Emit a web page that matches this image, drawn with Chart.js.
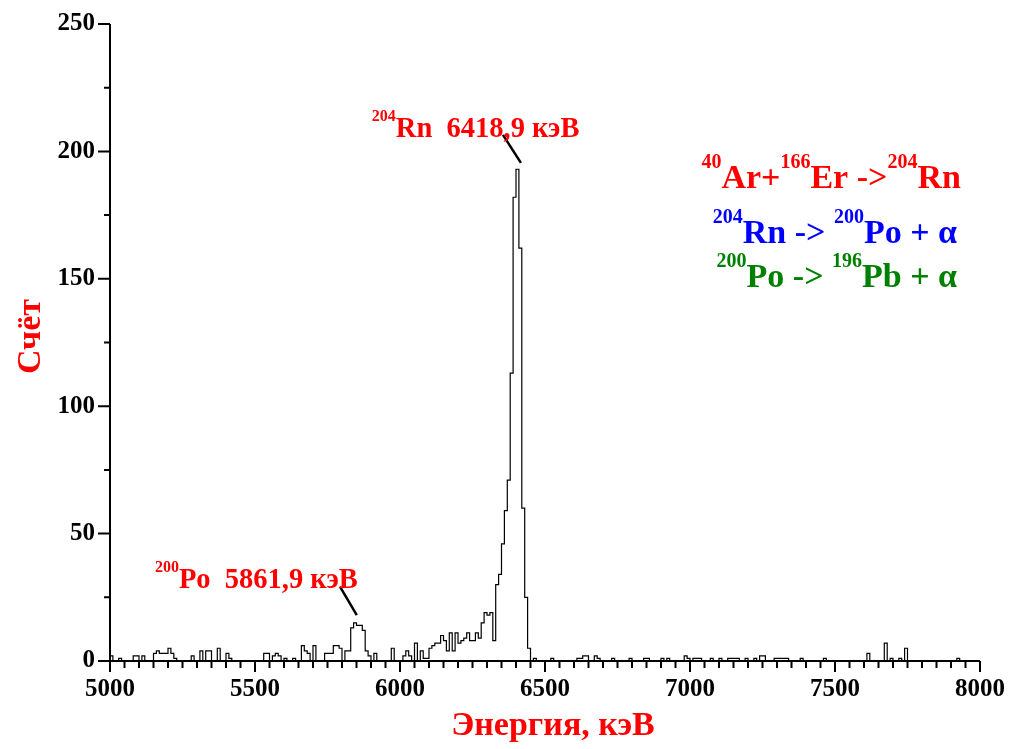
<!DOCTYPE html>
<html>
<head>
<meta charset="utf-8">
<script src="https://cdn.jsdelivr.net/npm/chart.js@4.4.1/dist/chart.umd.min.js"></script>
<style>
  html, body { margin: 0; padding: 0; background: #fff; }
  #wrap { width: 1011px; height: 749px; }
</style>
</head>
<body>
<div id="wrap"><canvas id="spectrum"></canvas></div>
<script>
// spectrum: 10 keV bins from 5000 to 8000 keV, one row = 100 keV
const binStart = 5000;
const binWidth = 10;
const counts = [
  2, 0, 0, 1, 0, 0, 0, 0, 2, 2,        // 5000
  0, 2, 0, 0, 0, 3, 4, 3, 3, 3,        // 5100
  5, 3, 1, 0, 0, 0, 0, 0, 2, 0,        // 5200
  0, 4, 0, 4, 4, 0, 0, 5, 0, 0,        // 5300
  3, 1, 0, 0, 0, 0, 0, 0, 0, 0,        // 5400
  0, 0, 0, 3, 3, 0, 2, 3, 2, 0,        // 5500
  1, 0, 0, 1, 0, 0, 6, 4, 3, 0,        // 5600
  6, 0, 0, 0, 3, 3, 3, 6, 6, 5,        // 5700
  0, 4, 4, 13, 15, 14, 14, 12, 4, 2,   // 5800
  0, 3, 0, 0, 0, 0, 0, 5, 0, 0,        // 5900
  0, 2, 4, 2, 0, 7, 0, 4, 1, 1,        // 6000
  5, 6, 7, 7, 10, 8, 4, 11, 4, 11,     // 6100
  7, 8, 9, 11, 8, 8, 11, 9, 15, 19,    // 6200
  18, 19, 8, 30, 34, 46, 59, 71, 113, 182, // 6300
  193, 162, 60, 25, 5, 0, 1, 0, 0, 0,  // 6400
  0, 0, 1, 0, 0, 0, 0, 0, 0, 0,        // 6500
  0, 1, 1, 2, 2, 0, 0, 2, 1, 0,        // 6600
  0, 0, 0, 1, 0, 0, 0, 0, 0, 1,        // 6700
  0, 0, 0, 0, 1, 1, 0, 0, 0, 0,        // 6800
  1, 0, 1, 0, 0, 0, 0, 0, 2, 1,        // 6900
  0, 1, 1, 1, 0, 0, 0, 1, 0, 0,        // 7000
  1, 0, 0, 1, 1, 1, 1, 0, 0, 1,        // 7100
  0, 0, 1, 0, 2, 2, 0, 0, 0, 1,        // 7200
  1, 1, 1, 1, 0, 0, 0, 0, 1, 0,        // 7300
  0, 0, 0, 0, 0, 0, 1, 0, 0, 0,        // 7400
  0, 0, 0, 0, 0, 0, 0, 0, 0, 0,        // 7500
  0, 3, 0, 0, 0, 0, 0, 7, 0, 1,        // 7600
  0, 0, 1, 0, 5, 0, 0, 0, 0, 0,        // 7700
  0, 0, 0, 0, 0, 0, 0, 0, 0, 0,        // 7800
  0, 0, 1, 0, 0, 0, 0, 0, 0, 0         // 7900
];

const xRange = [5000, 8000];
const xMajor = 500, xMinor = 50;
const yRange = [0, 250];
const yMajor = 50, yMinor = 25;

const FONT = '"Liberation Serif", "Times New Roman", serif';

// peak labels: [energy, count] of text start, leader line from/to
const peakLabels = [
  { iso: '204', text: 'Rn  6418,9 кэВ', at: [5903, 205.5], line: [[6355, 206.5], [6417, 195.5]] },
  { iso: '200', text: 'Po  5861,9 кэВ', at: [5155, 28.6], line: [[5793, 29.2], [5851, 18.0]] }
];

// reaction lines, right aligned
const reactions = [
  { color: '#ff0000', at: [7934, 185.6], parts: [['40', 1], ['Ar+', 0], ['166', 1], ['Er ->', 0], ['204', 1], ['Rn', 0]] },
  { color: '#0000ff', at: [7921, 164.0], parts: [['204', 1], ['Rn -> ', 0], ['200', 1], ['Po + α', 0]] },
  { color: '#008000', at: [7921, 146.8], parts: [['200', 1], ['Po -> ', 0], ['196', 1], ['Pb + α', 0]] }
];

function drawRich(ctx, parts, x, y, size, supSize, align) {
  let total = 0;
  parts.forEach(([t, sup]) => {
    ctx.font = `bold ${sup ? supSize : size}px ${FONT}`;
    total += ctx.measureText(t).width;
  });
  let cx = align === 'right' ? x - total : x;
  parts.forEach(([t, sup]) => {
    ctx.font = `bold ${sup ? supSize : size}px ${FONT}`;
    ctx.fillText(t, cx, sup ? y - size * 0.58 : y);
    cx += ctx.measureText(t).width;
  });
}

const axesPlugin = {
  id: 'axes',
  afterDatasetsDraw(chart) {
    const { ctx, chartArea: a, scales: { x, y } } = chart;
    ctx.save();
    ctx.strokeStyle = '#000';
    ctx.lineWidth = 2;
    ctx.beginPath();
    ctx.moveTo(a.left, a.bottom); ctx.lineTo(a.right, a.bottom);
    ctx.moveTo(a.left, a.bottom); ctx.lineTo(a.left, a.top);
    for (let e = xRange[0]; e <= xRange[1]; e += xMinor) {
      const px = x.getPixelForValue(e);
      ctx.moveTo(px, a.bottom);
      ctx.lineTo(px, a.bottom + (e % xMajor === 0 ? 11 : 7));
    }
    for (let v = yRange[0]; v <= yRange[1]; v += yMinor) {
      const py = y.getPixelForValue(v);
      ctx.moveTo(a.left, py);
      ctx.lineTo(a.left - (v % yMajor === 0 ? 12 : 6), py);
    }
    ctx.stroke();
    ctx.restore();
  }
};

const textPlugin = {
  id: 'texts',
  afterDraw(chart) {
    const { ctx, chartArea: a, scales: { x, y } } = chart;
    ctx.save();
    ctx.textBaseline = 'alphabetic';
    ctx.textAlign = 'left';

    // leader lines
    ctx.strokeStyle = '#000';
    ctx.lineWidth = 2.5;
    peakLabels.forEach(p => {
      ctx.beginPath();
      ctx.moveTo(x.getPixelForValue(p.line[0][0]), y.getPixelForValue(p.line[0][1]));
      ctx.lineTo(x.getPixelForValue(p.line[1][0]), y.getPixelForValue(p.line[1][1]));
      ctx.stroke();
    });

    ctx.fillStyle = '#ff0000';
    peakLabels.forEach(p => {
      drawRich(ctx, [[p.iso, 1], [p.text, 0]],
        x.getPixelForValue(p.at[0]), y.getPixelForValue(p.at[1]), 28.5, 16, 'left');
    });

    reactions.forEach(r => {
      ctx.fillStyle = r.color;
      drawRich(ctx, r.parts, x.getPixelForValue(r.at[0]), y.getPixelForValue(r.at[1]), 34, 20, 'right');
    });

    // axis titles
    ctx.fillStyle = '#ff0000';
    ctx.font = `bold 34px ${FONT}`;
    ctx.textAlign = 'center';
    ctx.fillText('Энергия, кэВ', a.left + 443, 735);
    ctx.translate(40, (a.top + a.bottom) / 2 - 6);
    ctx.rotate(-Math.PI / 2);
    ctx.fillText('Счёт', 0, 0);
    ctx.restore();
  }
};

const points = counts.map((c, i) => ({ x: binStart + i * binWidth, y: c }));
points.push({ x: binStart + counts.length * binWidth, y: 0 });

const tickFont = { family: FONT, size: 25, weight: 'bold' };

new Chart(document.getElementById('spectrum'), {
  type: 'line',
  data: {
    datasets: [{
      data: points,
      stepped: 'before',
      borderColor: '#000',
      borderWidth: 1.2,
      pointRadius: 0,
      fill: false
    }]
  },
  options: {
    responsive: true,
    maintainAspectRatio: false,
    animation: false,
    layout: { padding: { left: 0, top: 24, right: 31, bottom: 0 } },
    plugins: { legend: { display: false }, tooltip: { enabled: false } },
    scales: {
      x: {
        type: 'linear',
        min: xRange[0], max: xRange[1],
        grid: { display: false, drawTicks: false },
        border: { display: false },
        ticks: { stepSize: xMajor, padding: 14, color: '#000', font: tickFont, callback: v => String(v) },
        afterFit: s => { s.height = 88; s.paddingLeft = 0; s.paddingRight = 0; }
      },
      y: {
        min: yRange[0], max: yRange[1],
        grid: { display: false, drawTicks: false },
        border: { display: false },
        ticks: { stepSize: yMajor, padding: 15, color: '#000', font: tickFont, callback: v => String(v) },
        afterFit: s => { s.width = 110; s.paddingTop = 0; s.paddingBottom = 0; }
      }
    }
  },
  plugins: [axesPlugin, textPlugin]
});
</script>
</body>
</html>
